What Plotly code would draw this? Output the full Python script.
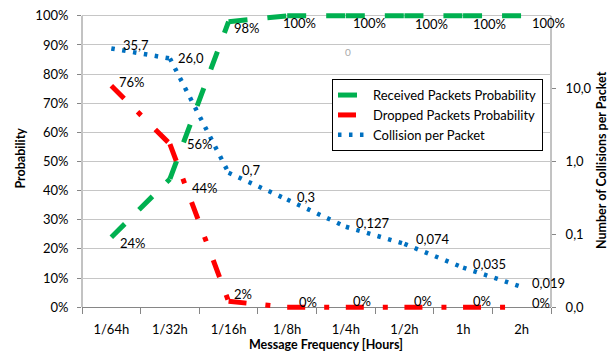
import math
import plotly.graph_objects as go

# ---- data -------------------------------------------------------------
frequencies = ["1/64h", "1/32h", "1/16h", "1/8h", "1/4h", "1/2h", "1h", "2h"]
received_pct = [24, 44, 98, 100, 100, 100, 100, 100]
dropped_pct = [76, 56, 2, 0, 0, 0, 0, 0]
collisions = [35.7, 26.0, 0.7, 0.3, 0.127, 0.074, 0.035, 0.019]
prob_ticks = [0, 10, 20, 30, 40, 50, 60, 70, 80, 90, 100]
collision_ticks = [0.01, 0.1, 1, 10]

# ---- styling ----------------------------------------------------------
FONT = "Lato"
GREEN = "#00B050"
RED = "#FF0000"
BLUE = "#0070C0"
AXIS = "#868686"
GRID = "#C6C6C6"

# label offsets in pixels (dx, dy) relative to each point
received_offsets = [(7, -6), (20, -9), (3, -6), (-6, -7), (5, -7), (9, -8), (8, -8), (8, -7)]
dropped_offsets = [(6, 4), (15, 0), (3, 7), (10, 5), (5, 6), (8, 6), (8, 6), (8, 4)]
collision_offsets = [(10, 3), (6, 0), (11, 3), (8, 3), (8, 4), (10, 5), (8, 4), (8, 4)]


def fmt_collision(v):
    s = f"{v:.3f}".rstrip("0")
    if s.endswith("."):
        s += "0"
    return s.replace(".", ",")


fig = go.Figure()


def add_series(values, name, color, width, dash, yaxis):
    # one trace per segment so the dash pattern restarts at every point
    for i in range(len(frequencies) - 1):
        fig.add_trace(go.Scatter(
            x=frequencies[i:i + 2], y=values[i:i + 2],
            mode="lines", name=name, yaxis=yaxis,
            line=dict(color=color, width=width, dash=dash),
            showlegend=(i == 0), hoverinfo="skip",
        ))


add_series(received_pct, "Received Packets Probability", GREEN, 5, "19px,20px", "y")
add_series(dropped_pct, "Dropped Packets Probability", RED, 5, "18px,19px,5px,20px", "y")
add_series(collisions, "Collision per Packet", BLUE, 4.5, "3.5px,7.5px", "y2")

annotations = []
label_font = dict(family=FONT, size=13, color="#000000")

for cat, v, (dx, dy) in zip(frequencies, received_pct, received_offsets):
    annotations.append(dict(x=cat, y=v, xref="x", yref="y", text=f"{v:.0f}%",
                            showarrow=False, xanchor="left", yanchor="middle",
                            xshift=dx, yshift=dy, font=label_font))
for cat, v, (dx, dy) in zip(frequencies, dropped_pct, dropped_offsets):
    annotations.append(dict(x=cat, y=v, xref="x", yref="y", text=f"{v:.0f}%",
                            showarrow=False, xanchor="left", yanchor="middle",
                            xshift=dx, yshift=dy, font=label_font))
for cat, v, (dx, dy) in zip(frequencies, collisions, collision_offsets):
    annotations.append(dict(x=cat, y=math.log10(v), xref="x", yref="y2",
                            text=fmt_collision(v), showarrow=False,
                            xanchor="left", yanchor="middle",
                            xshift=dx, yshift=dy, font=label_font))

# faint stray label near the top of the plot
annotations.append(dict(x="1/4h", y=87.5, xref="x", yref="y", text="0",
                        showarrow=False, xshift=2,
                        font=dict(family=FONT, size=10, color="#A8A8A8")))

title_font = dict(family=FONT, size=12.5, color="#000000", weight="bold")
annotations += [
    dict(text="Probability", xref="paper", yref="paper", x=-0.132, y=0.51,
         textangle=-90, showarrow=False, xanchor="center", yanchor="middle",
         font=title_font),
    dict(text="Number of Collisions per Packet", xref="paper", yref="paper",
         x=1.109, y=0.505, textangle=-90, showarrow=False,
         xanchor="center", yanchor="middle", font=title_font),
    dict(text="Message Frequency [Hours]", xref="paper", yref="paper",
         x=0.521, y=-0.105, showarrow=False, xanchor="center",
         yanchor="middle", font=title_font),
]

# left / right axis frame lines spanning the probability range
shapes = [
    dict(type="line", xref="x domain", yref="y", x0=0, x1=0,
         y0=prob_ticks[0], y1=prob_ticks[-1], line=dict(color=AXIS, width=1),
         layer="below"),
    dict(type="line", xref="x domain", yref="y", x0=1, x1=1,
         y0=prob_ticks[0], y1=prob_ticks[-1], line=dict(color=AXIS, width=1),
         layer="below"),
]

pad = 2  # percent of headroom so thick lines at 0 % / 100 % are not clipped
decade_per_pct = 4 / 100.0

fig.update_layout(
    width=614, height=356,
    margin=dict(l=82, r=63, t=7, b=43),
    paper_bgcolor="white", plot_bgcolor="white",
    font=dict(family=FONT, size=13, color="#000000"),
    showlegend=True,
    legend=dict(x=0.533, y=0.772, xanchor="left", yanchor="top",
                bgcolor="white", bordercolor="#000000", borderwidth=1,
                font=dict(family=FONT, size=13, color="#000000"),
                tracegroupgap=0),
    xaxis=dict(type="category", categoryorder="array", categoryarray=frequencies,
               range=[-0.5, len(frequencies) - 0.5], tickson="boundaries",
               ticks="outside", ticklen=6, tickcolor=AXIS, showgrid=False,
               showline=True, linecolor=AXIS, linewidth=1, zeroline=False,
               anchor="free", position=pad / (100 + 2 * pad),
               ticklabelstandoff=10, layer="below traces",
               tickfont=dict(family=FONT, size=13, color="#000000")),
    yaxis=dict(range=[-pad, 100 + pad], tickvals=prob_ticks,
               ticktext=[f"{t}%" for t in prob_ticks],
               showgrid=True, gridcolor=GRID, gridwidth=1, zeroline=False,
               showline=False, ticks="outside", ticklen=4, tickcolor=AXIS,
               ticklabelstandoff=6, layer="below traces",
               tickfont=dict(family=FONT, size=13, color="#000000")),
    yaxis2=dict(type="log", overlaying="y", side="right",
                range=[-2 - pad * decade_per_pct, 2 + pad * decade_per_pct],
                tickvals=collision_ticks,
                ticktext=[f"{t:.1f}".replace(".", ",") for t in collision_ticks],
                showgrid=False, zeroline=False, showline=False,
                ticks="outside", ticklen=4, tickcolor=AXIS,
                ticklabelstandoff=7, layer="below traces",
                tickfont=dict(family=FONT, size=13, color="#000000")),
    annotations=annotations,
    shapes=shapes,
)

fig.write_html("out.html")
